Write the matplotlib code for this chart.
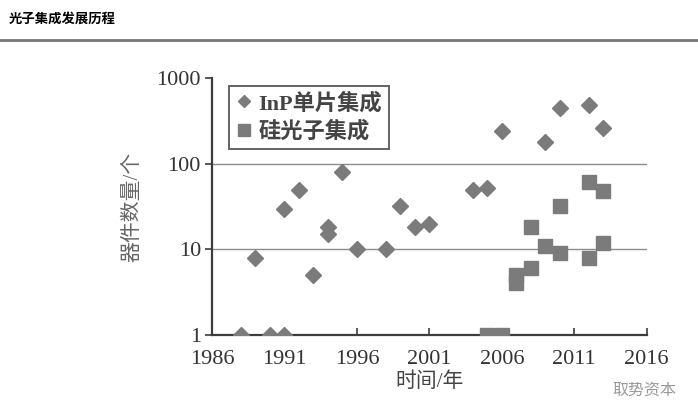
import matplotlib.pyplot as plt
from matplotlib.lines import Line2D

# InP monolithic integration (diamonds)
inp_years = [1988, 1989, 1990, 1991, 1991, 1992, 1993, 1994, 1994, 1995, 1996,
             1998, 1999, 2000, 2001, 2004, 2005, 2006, 2009, 2010, 2012, 2013]
inp_counts = [1, 8, 1, 1, 30, 50, 5, 18, 15, 80, 10,
              10, 32, 18, 20, 50, 52, 240, 180, 450, 480, 260]

# silicon photonics integration (squares)
si_years = [2005, 2006, 2007, 2007, 2008, 2008, 2009, 2010, 2010, 2012, 2012, 2013, 2013]
si_counts = [1, 1, 4, 5, 6, 18, 11, 9, 32, 8, 62, 12, 48]

x_ticks = [1986, 1991, 1996, 2001, 2006, 2011, 2016]
y_ticks = [1, 10, 100, 1000]
legend_labels = ["InP单片集成", "硅光子集成"]

serif = ["Liberation Serif", "Noto Sans CJK SC"]
marker_color = "#7b7b7b"
axis_color = "#3c3c3c"

fig = plt.figure(figsize=(6.98, 4.09), dpi=100)
ax = fig.add_axes([0.3037, 0.181, 0.6228, 0.628])

ax.set_yscale("log")
ax.set_xlim(1986, 2016)
ax.set_ylim(1, 1000)

for y in [10, 100]:
    ax.axhline(y, color="#8c8c8c", lw=1.0, zorder=1)

ax.plot(inp_years, inp_counts, ls="none", marker="D", ms=8.5, color=marker_color,
        mec=marker_color, zorder=3)
ax.plot(si_years, si_counts, ls="none", marker="s", ms=10, color=marker_color,
        mec=marker_color, zorder=3)

for side in ["top", "right"]:
    ax.spines[side].set_visible(False)
for side in ["left", "bottom"]:
    ax.spines[side].set_color(axis_color)
    ax.spines[side].set_linewidth(1.6)

ax.set_xticks(x_ticks)
ax.set_xticklabels([str(t) for t in x_ticks])
ax.set_yticks(y_ticks)
ax.set_yticklabels([str(t) for t in y_ticks])
ax.minorticks_off()
ax.tick_params(axis="x", direction="in", length=5, width=1.2, color=axis_color, pad=11)
ax.tick_params(axis="y", direction="out", length=5, width=1.2, color=axis_color, pad=3)
for lab in ax.get_xticklabels() + ax.get_yticklabels():
    lab.set_family(serif)
    lab.set_fontsize(16)
    lab.set_color("#333333")

ax.set_xlabel("时间/年", family=serif, fontsize=15, color="#444444", labelpad=2)
ax.set_ylabel("器件数量/个", family=serif, fontsize=15, color="#666666", labelpad=10)

handles = [
    Line2D([], [], ls="none", marker="D", ms=6, color=marker_color),
    Line2D([], [], ls="none", marker="s", ms=8, color=marker_color),
]
leg = ax.legend(handles, legend_labels, loc="upper left", bbox_to_anchor=(0.04, 0.97),
                prop={"family": serif, "size": 16, "weight": "bold"}, frameon=True,
                fancybox=False, handlelength=0.7, handletextpad=0.3,
                borderpad=0.3, labelspacing=0.3, borderaxespad=0)
leg.get_frame().set_edgecolor(axis_color)
leg.get_frame().set_linewidth(1.4)
for t in leg.get_texts():
    t.set_color("#444444")

fig.text(0.012, 0.955, "光子集成发展历程", family=["Noto Sans CJK SC", "DejaVu Sans"],
         fontsize=9.6, fontweight="bold", color="black", va="center")
fig.add_artist(Line2D([0, 1], [0.903, 0.903], transform=fig.transFigure,
                      color="#777777", lw=2))
fig.text(0.878, 0.046, "取势资本", family=["Noto Sans CJK SC", "DejaVu Sans"],
         fontsize=11.5, color="#999999", va="center")

fig.savefig("out.png", dpi=100)
